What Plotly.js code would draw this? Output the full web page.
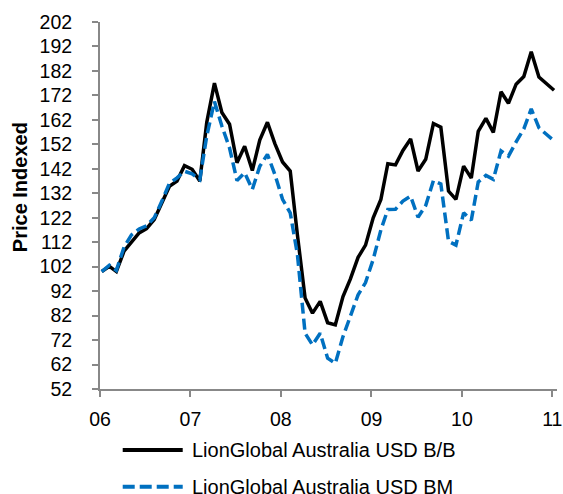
<!DOCTYPE html>
<html>
<head>
<meta charset="utf-8">
<script src="https://cdn.plot.ly/plotly-3.0.1.min.js"></script>
<style>
html,body{margin:0;padding:0;background:#fff;}
#chart{width:563px;height:494px;}
</style>
</head>
<body>
<div id="chart"></div>
<script>
var dates = [
"2006-01-08","2006-02-08","2006-03-08","2006-04-08","2006-05-08","2006-06-08","2006-07-08","2006-08-08","2006-09-08","2006-10-08","2006-11-08","2006-12-08",
"2007-01-08","2007-02-08","2007-03-08","2007-04-08","2007-05-08","2007-06-08","2007-07-08","2007-08-08","2007-09-08","2007-10-08","2007-11-08","2007-12-08",
"2008-01-08","2008-02-08","2008-03-08","2008-04-08","2008-05-08","2008-06-08","2008-07-08","2008-08-08","2008-09-08","2008-10-08","2008-11-08","2008-12-08",
"2009-01-08","2009-02-08","2009-03-08","2009-04-08","2009-05-08","2009-06-08","2009-07-08","2009-08-08","2009-09-08","2009-10-08","2009-11-08","2009-12-08",
"2010-01-08","2010-02-08","2010-03-08","2010-04-08","2010-05-08","2010-06-08","2010-07-08","2010-08-08","2010-09-08","2010-10-08","2010-11-08","2010-12-08",
"2011-01-08"
];
var seriesBB = [
100,102.1,100,108.3,112,115.8,117.5,121.3,128.1,134.8,137,143.3,
141.8,137,161,177,165,160.2,144.5,151.2,141.3,153.7,161,152.3,
144.8,141.1,115,89.2,83,87.8,79.1,78.2,89.8,97,105.8,110.8,
122,129.5,144.1,143.6,149.5,154.2,141.1,145.9,160.5,159,132.9,129.5,
143.1,138.2,157.3,162.6,156.9,173.5,168.8,176.6,179.7,189.8,179.5,177,
174.1
];
var seriesBM = [
100,102.6,100.5,110,115,117.4,118.7,122,128.8,136,138.3,141,
139.9,137.6,155.4,169.5,159.5,150.5,137.2,140.4,133.6,143,147.9,139.7,
129.5,124,107,74.8,70,74.8,64.6,62.5,73.4,82,90.5,95.5,
105,117,125.4,125.5,128.8,130.8,122.2,127,137.2,135.8,112.4,110.8,
124,121,136.6,139.3,137.7,149.3,147.2,153,158.3,166.5,158.8,156.1,
153.4
];
var seriesNames = ["LionGlobal Australia USD B/B", "LionGlobal Australia USD BM"];
var xTickVals = ["2006-01-01","2007-01-01","2008-01-01","2009-01-01","2010-01-01","2011-01-01"];
var xTickText = ["06","07","08","09","10","11"];
var yTitle = "Price Indexed";

var FONT = "Liberation Sans, Arial, sans-serif";
var FS = 19.5;
var traces = [
  {x: dates, y: seriesBB, type: "scatter", mode: "lines", name: seriesNames[0],
   line: {color: "#000000", width: 3.5}, showlegend: false},
  {x: dates, y: seriesBM, type: "scatter", mode: "lines", name: seriesNames[1],
   line: {color: "#0070C0", width: 3.5, dash: "11px,5px"}, showlegend: false}
];

// manual legend and rotated axis title (positions in paper coords)
var legY = [-0.1662, -0.2662];
var shapes = [
  {type: "line", xref: "paper", yref: "paper", x0: 0.0497, x1: 0.181, y0: legY[0], y1: legY[0],
   line: {color: "#000000", width: 4}},
  {type: "line", xref: "paper", yref: "paper", x0: 0.0497, x1: 0.181, y0: legY[1], y1: legY[1],
   line: {color: "#0070C0", width: 4, dash: "12px,5px"}}
];
var annotations = [
  {xref: "paper", yref: "paper", x: 0.196, y: legY[0], xanchor: "left", yanchor: "middle",
   text: seriesNames[0], showarrow: false, font: {family: FONT, size: 20, color: "#000"}},
  {xref: "paper", yref: "paper", x: 0.196, y: legY[1], xanchor: "left", yanchor: "middle",
   text: seriesNames[1], showarrow: false, font: {family: FONT, size: 20, color: "#000"}},
  {xref: "paper", yref: "paper", x: -0.175, y: 0.55, xanchor: "center", yanchor: "middle",
   textangle: -90, text: "<b>" + yTitle + "</b>", showarrow: false,
   font: {family: FONT, size: 20, color: "#000"}}
];

var layout = {
  width: 563, height: 494,
  margin: {l: 100, r: 6, t: 22, b: 105},
  paper_bgcolor: "#fff", plot_bgcolor: "#fff",
  font: {family: FONT, size: FS, color: "#000"},
  showlegend: false,
  xaxis: {
    type: "date",
    range: ["2006-01-01", "2011-01-20"],
    tickvals: xTickVals, ticktext: xTickText,
    showgrid: false, zeroline: false,
    showline: true, linecolor: "#888888", linewidth: 2,
    ticks: "outside", ticklen: 6, tickwidth: 2, tickcolor: "#888888",
    ticklabelstandoff: 6,
    tickfont: {family: FONT, size: FS, color: "#000"}
  },
  yaxis: {
    range: [52, 202],
    tick0: 52, dtick: 10,
    showgrid: false, zeroline: false,
    showline: true, linecolor: "#888888", linewidth: 2,
    ticks: "outside", ticklen: 6, tickwidth: 2, tickcolor: "#888888",
    ticklabelstandoff: 16,
    tickfont: {family: FONT, size: FS, color: "#000"}
  },
  shapes: shapes,
  annotations: annotations
};

Plotly.newPlot("chart", traces, layout, {displayModeBar: false, staticPlot: true});
</script>
</body>
</html>
